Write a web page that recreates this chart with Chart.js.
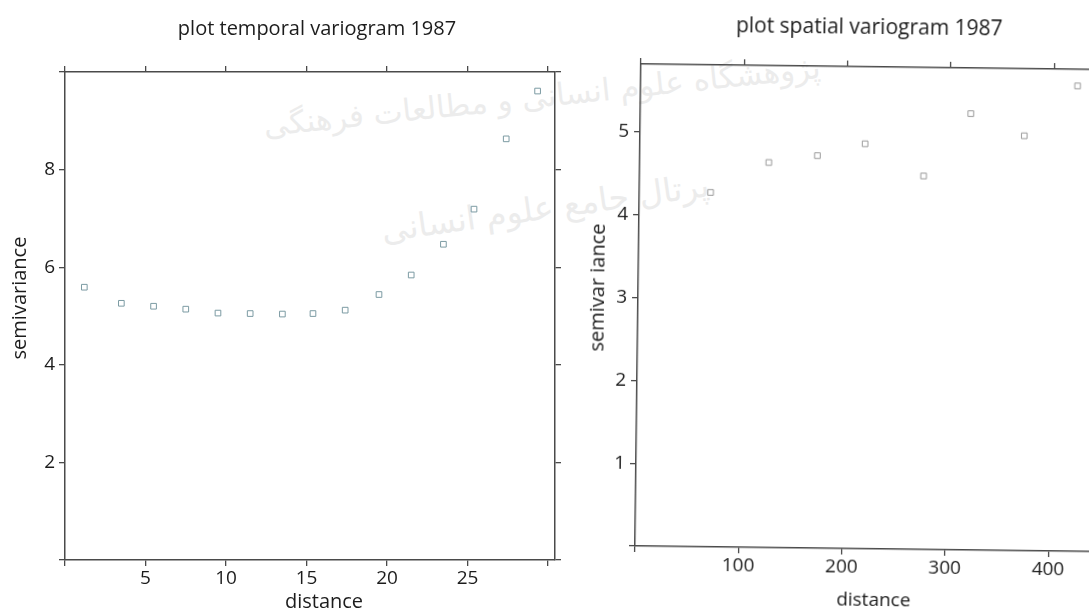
<!DOCTYPE html>
<html><head><meta charset="utf-8">
<script src="https://cdn.jsdelivr.net/npm/chart.js@4.4.0/dist/chart.umd.min.js"></script>
<style>
html,body{margin:0;padding:0;background:#fff;overflow:hidden;width:1089px;height:611px;}
#wrap{position:relative;width:1089px;height:611px;overflow:hidden;background:#fff;}
#c1{position:absolute;left:0;top:0;}
#c2{position:absolute;left:560px;top:0;transform-origin:75px 546px;transform:rotate(0.7deg);}
.wm{position:absolute;color:#ececec;font-family:"DejaVu Sans",sans-serif;white-space:nowrap;pointer-events:none;direction:rtl;}
</style></head>
<body><div id="wrap">
<div class="wm" id="wm1" style="left:262px;top:78px;font-size:31px;transform:rotate(-6deg);">پژوهشگاه علوم انسانی و مطالعات فرهنگی</div>
<div class="wm" id="wm2" style="left:380px;top:188px;font-size:33px;transform:rotate(-8deg);">پرتال جامع علوم انسانی</div>
<canvas id="c1" width="600" height="611"></canvas>
<canvas id="c2" width="560" height="611"></canvas>
</div>
<script>
// ---- data ----
const temporalDistance = [1.2, 3.5, 5.5, 7.5, 9.5, 11.5, 13.5, 15.4, 17.4, 19.5, 21.5, 23.5, 25.4, 27.4, 29.35];
const temporalSemivariance = [5.59, 5.26, 5.20, 5.14, 5.06, 5.05, 5.04, 5.05, 5.12, 5.44, 5.84, 6.47, 7.19, 8.63, 9.61];
const spatialDistance = [69, 125, 172, 218, 275, 320, 372, 423];
const spatialSemivariance = [4.28, 4.65, 4.74, 4.89, 4.51, 5.27, 5.01, 5.62];

const temporalXTicks = [0, 5, 10, 15, 20, 25, 30];
const temporalXLabels = [5, 10, 15, 20, 25];
const temporalYTicks = [0, 2, 4, 6, 8, 10];
const temporalYLabels = [2, 4, 6, 8];
const spatialXTicks = [0, 100, 200, 300, 400];
const spatialXLabels = [100, 200, 300, 400];
const spatialYTicks = [0, 1, 2, 3, 4, 5];
const spatialYLabels = [1, 2, 3, 4, 5];

const temporalTitle = 'plot temporal variogram 1987';
const spatialTitle = 'plot spatial variogram 1987';
const xTitle = 'distance';
const temporalYTitle = 'semivariance';
const spatialYTitle = 'semivar iance';

// ---- helpers ----
const AXIS_COLOR = '#4a4a4a';
const TEXT_COLOR = '#1c1c1c';

function makeAxis(position, min, max, tickVals, labelVals, size, fontSize, pad) {
  return {
    type: 'linear', position: position, min: min, max: max,
    afterBuildTicks: s => { s.ticks = tickVals.map(v => ({ value: v })); },
    afterFit: s => { if (position === 'left' || position === 'right') s.width = size; else s.height = size; },
    grid: { drawOnChartArea: false, drawTicks: true, tickLength: 6, color: AXIS_COLOR, lineWidth: 1.3 },
    border: { display: true, color: AXIS_COLOR, width: 1.5 },
    ticks: {
      autoSkip: false, maxRotation: 0, padding: pad, color: TEXT_COLOR,
      font: { family: 'Open Sans', size: fontSize },
      callback: v => labelVals.includes(v) ? String(v) : ''
    }
  };
}

const textPlugin = {
  id: 'texts',
  afterDraw(chart, args, opts) {
    const ctx = chart.ctx;
    (opts.items || []).forEach(it => {
      ctx.save();
      ctx.font = it.font;
      ctx.fillStyle = TEXT_COLOR;
      ctx.textAlign = 'center';
      ctx.textBaseline = it.baseline || 'alphabetic';
      ctx.translate(it.x, it.y);
      if (it.rot) ctx.rotate(it.rot);
      ctx.fillText(it.text, 0, 0);
      ctx.restore();
    });
  }
};

function toPoints(xs, ys) { return xs.map((x, i) => ({ x: x, y: ys[i] })); }

function draw() {
  new Chart(document.getElementById('c1'), {
    type: 'scatter',
    data: { datasets: [{
      data: toPoints(temporalDistance, temporalSemivariance),
      pointStyle: 'rect', pointRadius: 4, pointBorderWidth: 1,
      pointBorderColor: '#7c9ba3', pointBackgroundColor: 'rgba(0,0,0,0)'
    }] },
    options: {
      responsive: false, animation: false,
      layout: { padding: { top: 66, left: 0, right: 39, bottom: 0 } },
      plugins: {
        legend: { display: false }, tooltip: { enabled: false },
        texts: { items: [
          { text: temporalTitle, x: 317, y: 35, font: '20px "Open Sans"' },
          { text: xTitle, x: 324, y: 608, font: '20px "Open Sans"' },
          { text: temporalYTitle, x: 20, y: 298, font: '20px "Open Sans"', rot: -Math.PI / 2, baseline: 'middle' }
        ] }
      },
      scales: {
        x: makeAxis('bottom', 0, 30.43, temporalXTicks, temporalXLabels, 51, 19, 1),
        x2: makeAxis('top', 0, 30.43, temporalXTicks, [], 6, 19, 0),
        y: makeAxis('left', 0, 10, temporalYTicks, temporalYLabels, 65, 19, 4),
        y2: makeAxis('right', 0, 10, temporalYTicks, [], 6, 19, 0)
      }
    },
    plugins: [textPlugin]
  });

  new Chart(document.getElementById('c2'), {
    type: 'scatter',
    data: { datasets: [{
      data: toPoints(spatialDistance, spatialSemivariance),
      pointStyle: 'rect', pointRadius: 4, pointBorderWidth: 1,
      pointBorderColor: '#9a9a9a', pointBackgroundColor: 'rgba(0,0,0,0)'
    }] },
    options: {
      responsive: false, animation: false,
      layout: { padding: { top: 58, left: 0, right: 9, bottom: 0 } },
      plugins: {
        legend: { display: false }, tooltip: { enabled: false },
        texts: { items: [
          { text: spatialTitle, x: 303, y: 31, font: '21px "Open Sans"' },
          { text: xTitle, x: 314, y: 603, font: '19px "Open Sans"' },
          { text: spatialYTitle, x: 35, y: 288, font: '20px "Open Sans"', rot: -Math.PI / 2, baseline: 'middle' }
        ] }
      },
      scales: {
        x: makeAxis('bottom', 0, 455, spatialXTicks, spatialXLabels, 65, 19, 1),
        x2: makeAxis('top', 0, 455, spatialXTicks, [], 6, 19, 0),
        y: makeAxis('left', 0, 5.82, spatialYTicks, spatialYLabels, 75, 19, 5),
        y2: makeAxis('right', 0, 5.82, spatialYTicks, [], 6, 19, 0)
      }
    },
    plugins: [textPlugin]
  });
}

let done = false;
function go() { if (!done) { done = true; draw(); } }
if (document.fonts && document.fonts.load) {
  Promise.all([document.fonts.load('20px "Open Sans"'), document.fonts.load('20px "DejaVu Sans"')]).then(go, go);
  setTimeout(go, 800);
} else { go(); }
</script>
</body></html>
